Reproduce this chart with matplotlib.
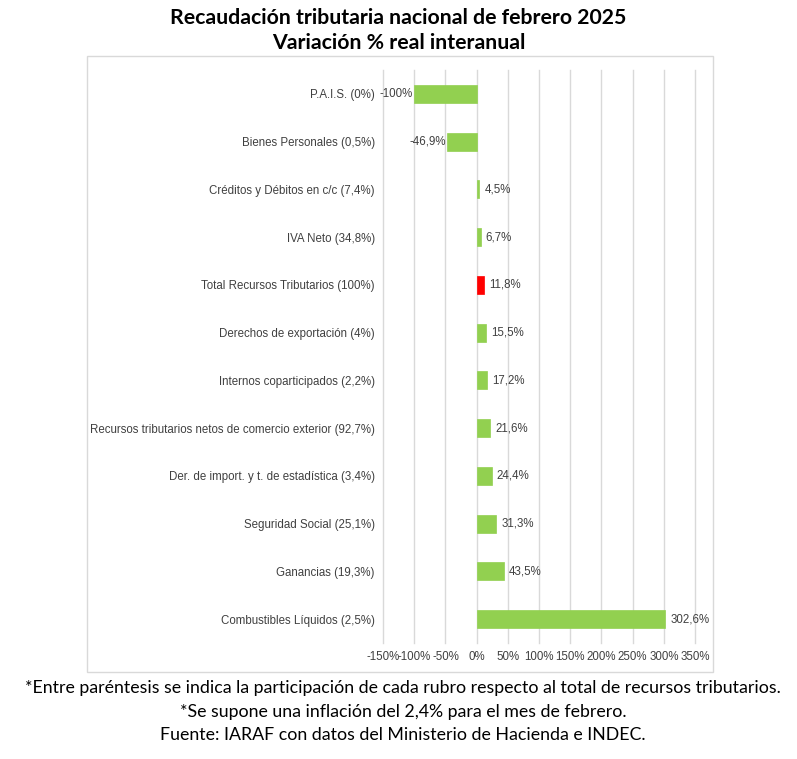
import matplotlib
matplotlib.use("Agg")
import matplotlib.pyplot as plt
from matplotlib.patches import Rectangle
from matplotlib.ticker import FuncFormatter

# datos (de arriba hacia abajo)
categorias = [
    "P.A.I.S. (0%)",
    "Bienes Personales (0,5%)",
    "Créditos y Débitos en c/c (7,4%)",
    "IVA Neto (34,8%)",
    "Total Recursos Tributarios (100%)",
    "Derechos de exportación (4%)",
    "Internos coparticipados (2,2%)",
    "Recursos tributarios netos de comercio exterior (92,7%)",
    "Der. de import. y t. de estadística (3,4%)",
    "Seguridad Social (25,1%)",
    "Ganancias (19,3%)",
    "Combustibles Líquidos (2,5%)",
]
variacion = [-100, -46.9, 4.5, 6.7, 11.8, 15.5, 17.2, 21.6, 24.4, 31.3, 43.5, 302.6]
etiquetas = ["-100%", "-46,9%", "4,5%", "6,7%", "11,8%", "15,5%", "17,2%",
             "21,6%", "24,4%", "31,3%", "43,5%", "302,6%"]
destacado = "Total Recursos Tributarios (100%)"
ticks_x = [-150, -100, -50, 0, 50, 100, 150, 200, 250, 300, 350]

verde = "#92D050"
rojo = "#FF0000"
gris_txt = "#404040"
fs = 8.3

fig = plt.figure(figsize=(7.97, 7.59), dpi=100)
ax = fig.add_axes([0.4806, 0.1528, 0.3915, 0.755])

colores = [rojo if c == destacado else verde for c in categorias]
pos = list(range(len(categorias)))
ax.barh(pos, variacion, height=0.38, color=colores, edgecolor=colores,
        linewidth=0.5, zorder=3)

for p, v, t in zip(pos, variacion, etiquetas):
    if v < 0:
        ax.text(v - 3, p, t, ha="right", va="center", fontsize=fs,
                family="Liberation Sans", color=gris_txt)
    else:
        ax.text(v + 8, p, t, ha="left", va="center", fontsize=fs,
                family="Liberation Sans", color=gris_txt)

ax.set_yticks(pos)
ax.set_yticklabels(categorias, family="Liberation Sans", fontsize=fs, color=gris_txt)
ax.set_ylim(11.5, -0.5)
ax.set_xlim(-150, 350)
ax.set_xticks(ticks_x)
ax.xaxis.set_major_formatter(FuncFormatter(lambda x, _: f"{x:.0f}%"))
for lab in ax.get_xticklabels():
    lab.set_family("Liberation Sans")
    lab.set_fontsize(fs)
    lab.set_color(gris_txt)
ax.tick_params(axis="both", length=0, pad=6)
ax.tick_params(axis="y", pad=6)
ax.grid(axis="x", color="#D9D9D9", linewidth=1, zorder=0)
for gl in ax.get_xgridlines():
    gl.set_clip_on(False)
for s in ax.spines.values():
    s.set_visible(False)

# marco del gráfico
fig.patches.append(Rectangle((87 / 797, 1 - 672 / 759), (713 - 87) / 797, (672 - 56) / 759,
                             transform=fig.transFigure, fill=False,
                             edgecolor="#D9D9D9", linewidth=1))

fig.text(0.5, 1 - 18 / 759, "Recaudación tributaria nacional de febrero 2025",
         ha="center", va="center", fontsize=15.3, fontweight="bold", family="Lato")
fig.text(0.5, 1 - 43 / 759, "Variación % real interanual",
         ha="center", va="center", fontsize=15.3, fontweight="bold", family="Lato")

notas = [
    "*Entre paréntesis se indica la participación de cada rubro respecto al total de recursos tributarios.",
    "*Se supone una inflación del 2,4% para el mes de febrero.",
    "Fuente: IARAF con datos del Ministerio de Hacienda e INDEC.",
]
for i, n in enumerate(notas):
    fig.text(0.506, 1 - (688 + 23.5 * i) / 759, n, ha="center", va="center",
             fontsize=12.8, family="Lato")

fig.savefig("out.png", dpi=100)
